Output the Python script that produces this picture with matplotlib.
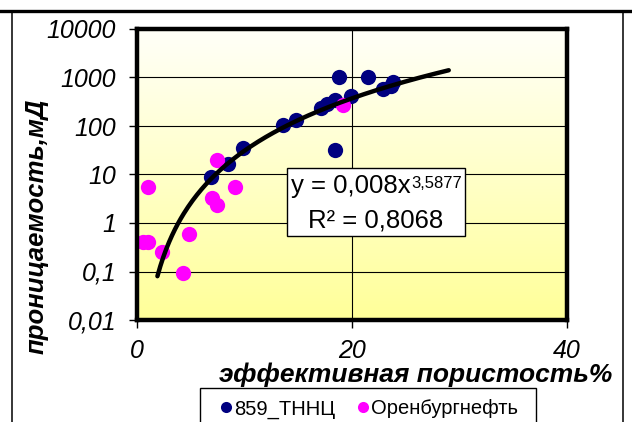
import numpy as np
import matplotlib
matplotlib.use("Agg")
import matplotlib.pyplot as plt
from matplotlib.lines import Line2D
from matplotlib.patches import Rectangle

# --- data ---
tnnc_x = [6.9, 8.5, 9.9, 13.6, 14.8, 17.1, 17.7, 18.4, 18.4, 18.8, 19.9, 21.5, 22.9, 23.6, 23.8]
tnnc_y = [8.9, 16.5, 35, 105, 130, 235, 285, 345, 32, 1000, 415, 1000, 575, 680, 800]
orb_x = [1.0, 0.56, 1.0, 2.3, 4.3, 4.8, 7.4, 7.0, 7.4, 9.1, 19.2]
orb_y = [5.5, 0.41, 0.41, 0.25, 0.093, 0.59, 20, 3.3, 2.35, 5.5, 270]
fit_a = 0.008
fit_b = 3.5877
fit_a_text = "0,008"
fit_b_text = "3,5877"
fit_r2 = "0,8068"
fit_xmin, fit_xmax = 1.9, 29.0
y_ticks = [0.01, 0.1, 1, 10, 100, 1000, 10000]
y_ticklabels = ["0,01", "0,1", "1", "10", "100", "1000", "10000"]
x_ticks = [0, 20, 40]
x_ticklabels = ["0", "20", "40"]
series_names = ["859_ТННЦ", "Оренбургнефть"]

plt.rcParams['font.family'] = ['Liberation Sans', 'DejaVu Sans']

W, H = 632, 422
fig = plt.figure(figsize=(W / 100, H / 100), dpi=100)

def fx(px):
    return px / W

def fy(py):
    return 1 - py / H

# outer frame lines (table cell border)
fig.add_artist(Line2D([0, 1], [fy(10.5), fy(10.5)], color='black', lw=2.4, transform=fig.transFigure))
fig.add_artist(Line2D([fx(12), fx(12)], [fy(10.5), 0], color='black', lw=1.1, transform=fig.transFigure))
fig.add_artist(Line2D([fx(623), fx(623)], [fy(10.5), 0], color='black', lw=1.1, transform=fig.transFigure))

L, R, T, B = 137, 567, 29, 320
ax = fig.add_axes([fx(L), fy(B), (R - L) / W, (B - T) / H])
ax.set_xlim(0, 40)
ax.set_yscale('log')
ax.set_ylim(0.01, 10000)

# gradient background
grad = np.linspace(0, 1, 256).reshape(-1, 1)
top = np.array([1.0, 1.0, 0.975])
bot = np.array([1.0, 1.0, 0.60])
img = top[None, None, :] * (1 - grad[:, :, None]) + bot[None, None, :] * grad[:, :, None]
ax.imshow(img, extent=[0, 1, 0, 1], transform=ax.transAxes, aspect='auto', zorder=0)

ax.set_yticks(y_ticks)
ax.set_yticklabels(y_ticklabels)
ax.yaxis.set_minor_locator(matplotlib.ticker.NullLocator())
ax.set_xticks(x_ticks)
ax.set_xticklabels(x_ticklabels)
for lab in ax.get_xticklabels() + ax.get_yticklabels():
    lab.set_fontstyle('italic')
    lab.set_fontsize(18)
ax.tick_params(axis='both', direction='out', length=6, width=1, color='black')
ax.tick_params(axis='y', pad=9)
ax.tick_params(axis='x', pad=8)

ax.grid(True, which='major', color='black', lw=0.8, zorder=1)
for sp in ax.spines.values():
    sp.set_linewidth(3.2)
    sp.set_zorder(5)

ax.plot(tnnc_x, tnnc_y, 'o', color='#000080', ms=11, mec='none', zorder=3, label=series_names[0])
ax.plot(orb_x, orb_y, 'o', color='#FF00FF', ms=11, mec='none', zorder=3, label=series_names[1])

xx = np.linspace(fit_xmin, fit_xmax, 200)
ax.plot(xx, fit_a * xx ** fit_b, color='black', lw=3.2, zorder=4, solid_capstyle='round')

ax.set_ylabel('проницаемость,мД', fontsize=18.5, fontweight='bold', fontstyle='italic')
ax.yaxis.set_label_coords((49 - L) / (R - L), (B - 226) / (B - T))
fig.text(fx(612), fy(375), 'эффективная пористость%', fontsize=19, fontweight='bold',
         fontstyle='italic', ha='right', va='center')

# equation box
fig.add_artist(Rectangle((fx(287), fy(236)), (465 - 287) / W, (236 - 168) / H,
                         transform=fig.transFigure, facecolor='white', edgecolor='black', lw=1.0, zorder=6))
t_main = fig.text(fx(291), fy(186), 'y = ' + fit_a_text + 'x', fontsize=18.5, ha='left', va='center', zorder=7)
fig.canvas.draw()
bb = t_main.get_window_extent()
fig.text(bb.x1 / W + 0.001, bb.y1 / H - 0.004, fit_b_text, fontsize=12, ha='left', va='top', zorder=7)
fig.text(fx(376), fy(220), 'R² = ' + fit_r2, fontsize=18.5, ha='center', va='center', zorder=7)

# legend
fig.add_artist(Rectangle((fx(200), fy(432)), (536 - 200) / W, (432 - 388) / H,
                         transform=fig.transFigure, facecolor='white', edgecolor='black', lw=1.0, zorder=6))
h1 = Line2D([], [], marker='o', ls='none', color='#000080', ms=8, mec='none')
h2 = Line2D([], [], marker='o', ls='none', color='#FF00FF', ms=8, mec='none')
leg = fig.legend([h1, h2], series_names, loc='center left', bbox_to_anchor=(fx(220), fy(409)),
                 ncol=2, frameon=False, fontsize=14.5, handlelength=0.6, handletextpad=0.1,
                 columnspacing=1.1, borderaxespad=0, borderpad=0)
leg.set_zorder(8)

fig.savefig('out.png', dpi=100)
